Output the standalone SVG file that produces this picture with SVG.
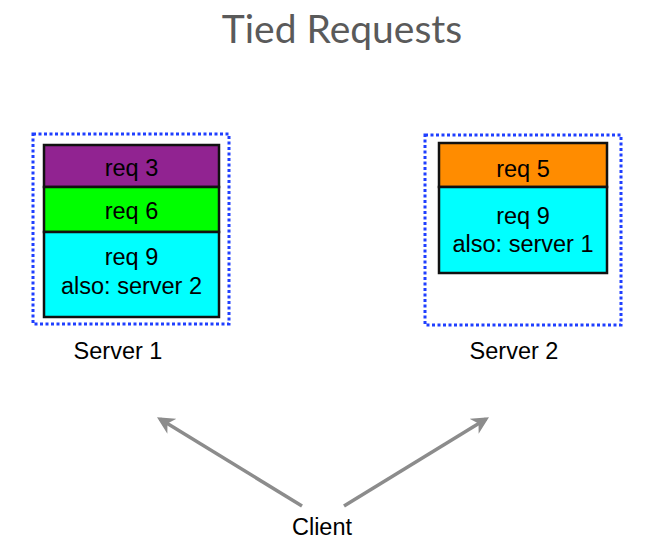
<svg xmlns="http://www.w3.org/2000/svg" width="658" height="546" viewBox="0 0 658 546">
<style>
.title{font-family:Lato,"Open Sans",sans-serif;font-size:39px;fill:#5a5a5a}
.t{font-family:"Liberation Sans",Arial,sans-serif;font-size:23.5px;fill:#000;text-anchor:middle}
.dot{fill:none;stroke:#1f3fff;stroke-width:3;stroke-dasharray:3 2.5}
.blk{stroke:#111;stroke-width:2.5}
.conn{stroke:#8c8c8c;stroke-width:3.5;fill:none}
</style>
<defs>
<marker id="ah" viewBox="0 0 10 10" refX="8" refY="5" markerWidth="5" markerHeight="5" orient="auto" markerUnits="strokeWidth">
<path d="M0,0 L10,5 L0,10 L3,5 Z" fill="#8c8c8c"/>
</marker>
</defs>
<rect width="658" height="546" fill="#fff"/>
<text class="title" x="342" y="43" text-anchor="middle">Tied Requests</text>
<g id="server1">
<rect class="dot" x="33" y="134" width="196" height="190"/>
<rect class="blk" x="44" y="145" width="175" height="42" fill="#912391"/>
<rect class="blk" x="44" y="187" width="175" height="45" fill="#00ff00"/>
<rect class="blk" x="44" y="232" width="175" height="85" fill="#00ffff"/>
<text class="t" x="131.5" y="176">req 3</text>
<text class="t" x="131.5" y="219">req 6</text>
<text class="t" x="131.5" y="265">req 9</text>
<text class="t" x="131.5" y="294">also: server 2</text>
<text class="t" x="118" y="359">Server 1</text>
</g>
<g id="server2">
<rect class="dot" x="425" y="135" width="196" height="190"/>
<rect class="blk" x="439" y="143" width="168" height="44" fill="#ff8c00"/>
<rect class="blk" x="439" y="187" width="168" height="86" fill="#00ffff"/>
<text class="t" x="523" y="177">req 5</text>
<text class="t" x="523" y="224">req 9</text>
<text class="t" x="523" y="252">also: server 1</text>
<text class="t" x="514" y="359">Server 2</text>
</g>
<g id="client">
<text class="t" x="322" y="535">Client</text>
</g>
<g id="connectors">
<line class="conn" x1="302" y1="506" x2="160" y2="419" marker-end="url(#ah)"/>
<line class="conn" x1="344" y1="506" x2="486" y2="419" marker-end="url(#ah)"/>
</g>
</svg>
